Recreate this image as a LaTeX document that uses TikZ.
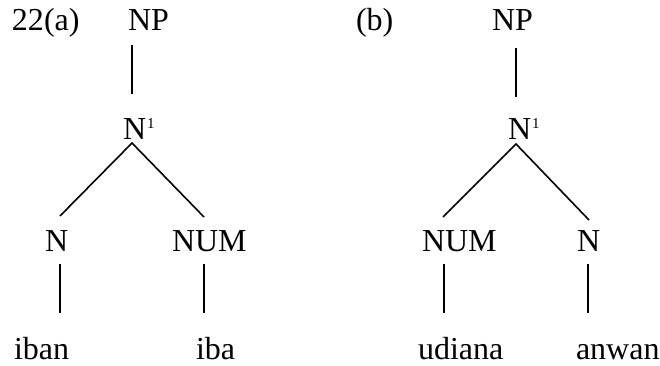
\documentclass[tikz,border=0pt]{standalone}
\usepackage{fontspec}
\setmainfont{Liberation Serif}
\newcommand{\supone}{\kern1pt\raisebox{12pt}{\fontsize{15}{15}\selectfont 1}}
\tikzset{
  lbl/.style={anchor=base west, inner sep=0pt, outer sep=0pt, font=\fontsize{32}{36}\selectfont},
  edge/.style={line width=1.6pt, line cap=butt}
}
\begin{document}
\begin{tikzpicture}[x=1pt,y=-1pt]
\useasboundingbox (0,0) rectangle (660,366);
% tree (a)
\node[lbl] (laba) at (12,31) {22(a)};
\node[lbl] (NPa) at (128,31) {NP};
\node[lbl] (N1a) at (123,140) {N\supone};
\node[lbl] (Na) at (45,251) {N};
\node[lbl] (NUMa) at (172,251) {NUM};
\node[lbl] (iban) at (14,359) {iban};
\node[lbl] (iba) at (196,359) {iba};
\coordinate (a1) at (132,45);
\coordinate (a2) at (132,94);
\coordinate (a3) at (132,143);
\coordinate (a4) at (60,216);
\coordinate (a5) at (204,217);
\coordinate (a6) at (60,264);
\coordinate (a7) at (60,313);
\coordinate (a8) at (204,264);
\coordinate (a9) at (204,313);
\draw[edge] (a1) -- (a2);
\draw[edge] (a4) -- (a3) -- (a5);
\draw[edge] (a6) -- (a7);
\draw[edge] (a8) -- (a9);
% tree (b)
\node[lbl] (labb) at (356,31) {(b)};
\node[lbl] (NPb) at (492,31) {NP};
\node[lbl] (N1b) at (508,140) {N\supone};
\node[lbl] (NUMb) at (422,251) {NUM};
\node[lbl] (Nb) at (577,251) {N};
\node[lbl] (udiana) at (418,359) {udiana};
\node[lbl] (anwan) at (576,359) {anwan};
\coordinate (b1) at (516,48);
\coordinate (b2) at (516,97);
\coordinate (b3) at (516,144);
\coordinate (b4) at (443,217);
\coordinate (b5) at (589,220);
\coordinate (b6) at (444,264);
\coordinate (b7) at (444,313);
\coordinate (b8) at (588,264);
\coordinate (b9) at (588,313);
\draw[edge] (b1) -- (b2);
\draw[edge] (b4) -- (b3) -- (b5);
\draw[edge] (b6) -- (b7);
\draw[edge] (b8) -- (b9);
\end{tikzpicture}
\end{document}
